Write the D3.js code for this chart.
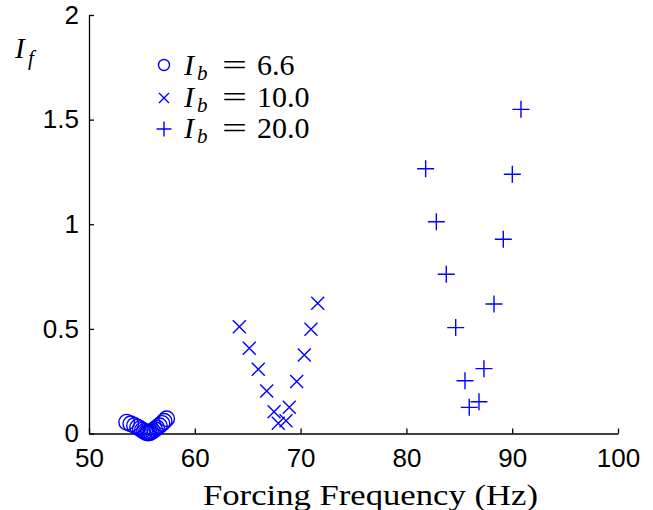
<!DOCTYPE html>
<html>
<head>
<meta charset="utf-8">
<script src="https://cdn.jsdelivr.net/npm/d3@7"></script>
<style>
  html, body { margin: 0; padding: 0; background: #fff; }
  svg { display: block; }
</style>
</head>
<body>
<svg id="chart" width="653" height="510"></svg>
<script>
// Fluid response amplitude I_f versus forcing frequency, for three bias levels I_b.

// I_b = 6.6 (circles)
const freqB66 = [53.56, 53.95, 54.3, 54.6, 54.85, 55.05, 55.25, 55.4, 55.55, 55.7, 55.85, 56.0, 56.2, 56.4, 56.65, 56.9, 57.1, 57.34];
const ampB66  = [0.054, 0.046, 0.038, 0.030, 0.023, 0.016, 0.010, 0.005, 0.002, 0.003, 0.007, 0.012, 0.019, 0.027, 0.037, 0.048, 0.058, 0.070];

// I_b = 10.0 (crosses)
const freqB10 = [64.21, 65.15, 66.0, 66.8, 67.49, 67.89, 68.62, 68.93, 69.63, 70.35, 70.98, 71.62];
const ampB10  = [0.510, 0.407, 0.307, 0.203, 0.104, 0.049, 0.061, 0.125, 0.248, 0.375, 0.498, 0.622];

// I_b = 20.0 (plus signs)
const freqB20 = [81.82, 82.83, 83.77, 84.66, 85.54, 85.94, 86.86, 87.33, 88.28, 89.16, 90.01, 90.83];
const ampB20  = [1.265, 1.012, 0.761, 0.506, 0.252, 0.125, 0.152, 0.310, 0.619, 0.928, 1.239, 1.549];

const seriesLabels = ["6.6", "10.0", "20.0"];
const seriesSymbols = ["circle", "cross", "plus"];

const xTicks = [50, 60, 70, 80, 90, 100];
const yTicks = [0, 0.5, 1, 1.5, 2];

const svg = d3.select("#chart");
const blue = "#0000ff";

const x = d3.scaleLinear().domain([50, 100]).range([89, 618]);
const y = d3.scaleLinear().domain([0, 2]).range([433.5, 15]);

// Axes: left and bottom only, ticks pointing inward
const xAxis = d3.axisBottom(x).tickValues(xTicks).tickSizeInner(-5).tickSizeOuter(0).tickPadding(14)
  .tickFormat(d3.format("d"));
const yAxis = d3.axisLeft(y).tickValues(yTicks).tickSizeInner(-5).tickSizeOuter(0).tickPadding(10)
  .tickFormat(d => d3.format("~g")(d));

const gx = svg.append("g").attr("transform", `translate(0,${y(0)})`).call(xAxis);
const gy = svg.append("g").attr("transform", `translate(${x(50)},0)`).call(yAxis);

[gx, gy].forEach(g => {
  g.select(".domain").attr("stroke", "#000").attr("stroke-width", 1.3);
  g.selectAll(".tick line").attr("stroke", "#000").attr("stroke-width", 1.3);
  g.selectAll(".tick text")
    .attr("fill", "#000")
    .style("font-family", "'Liberation Sans', Arial, sans-serif")
    .style("font-size", "26px");
});
gx.selectAll(".tick text").attr("dy", "0.71em").attr("y", 15);

// Marker drawers
function drawCircle(g, cx, cy, r) {
  g.append("circle").attr("cx", cx).attr("cy", cy).attr("r", r)
    .attr("fill", "none").attr("stroke", blue).attr("stroke-width", 1.4);
}
function drawCross(g, cx, cy, s) {
  g.append("path")
    .attr("d", `M${cx - s},${cy - s}L${cx + s},${cy + s}M${cx - s},${cy + s}L${cx + s},${cy - s}`)
    .attr("stroke", blue).attr("stroke-width", 1.4).attr("fill", "none");
}
function drawPlus(g, cx, cy, s) {
  g.append("path")
    .attr("d", `M${cx - s},${cy}L${cx + s},${cy}M${cx},${cy - s}L${cx},${cy + s}`)
    .attr("stroke", blue).attr("stroke-width", 1.4).attr("fill", "none");
}

const marks = svg.append("g");
freqB66.forEach((f, i) => drawCircle(marks, x(f), y(ampB66[i]), 7.8));
freqB10.forEach((f, i) => drawCross(marks, x(f), y(ampB10[i]), 6.5));
freqB20.forEach((f, i) => drawPlus(marks, x(f), y(ampB20[i]), 8.5));

// Legend
const serif = "'Liberation Serif', 'Times New Roman', serif";
const legend = svg.append("g");
const legendBase = [75, 107, 138];
seriesLabels.forEach((lab, i) => {
  const b = legendBase[i];
  const cy = b - 10;
  if (seriesSymbols[i] === "circle") drawCircle(legend, 164, cy, 5.5);
  if (seriesSymbols[i] === "cross") drawCross(legend, 164, cy + 1, 5);
  if (seriesSymbols[i] === "plus") drawPlus(legend, 164, cy + 1, 7.5);
  const t = legend.append("text")
    .attr("x", 184).attr("y", b)
    .style("font-family", serif).style("font-size", "30px").attr("fill", "#000");
  t.append("tspan").style("font-style", "italic").text("I");
  t.append("tspan").attr("x", 197).attr("dy", 5)
    .style("font-style", "italic").style("font-size", "21px").text("b");
  legend.append("text")
    .attr("x", 222).attr("y", b)
    .attr("textLength", 25).attr("lengthAdjust", "spacingAndGlyphs")
    .style("font-family", serif).style("font-size", "30px").attr("fill", "#000")
    .text("=");
  legend.append("text")
    .attr("x", 257).attr("y", b)
    .style("font-family", serif).style("font-size", "30px").attr("fill", "#000")
    .text(lab);
});

// Y axis label
const yl = svg.append("text").attr("x", 15).attr("y", 58)
  .style("font-family", serif).style("font-size", "29px").attr("fill", "#000");
yl.append("tspan").style("font-style", "italic").text("I");
yl.append("tspan").attr("x", 28).attr("dy", 7)
  .style("font-style", "italic").style("font-size", "21px").text("f");

// X axis label
svg.append("text").attr("x", 203).attr("y", 505)
  .attr("textLength", 335).attr("lengthAdjust", "spacingAndGlyphs")
  .style("font-family", serif).style("font-size", "30px").attr("fill", "#000")
  .text("Forcing Frequency (Hz)");
</script>
</body>
</html>
